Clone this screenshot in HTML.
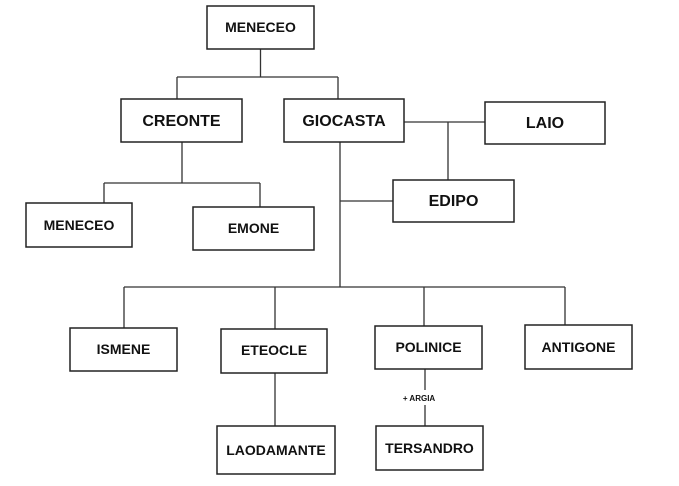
<!DOCTYPE html>
<html><head><meta charset="utf-8"><style>
body{margin:0;background:#fff;width:679px;height:481px;overflow:hidden}
svg text{font-family:"Liberation Sans",Arial,sans-serif;font-weight:bold;fill:#111}
</style></head><body>
<svg width="679" height="481" viewBox="0 0 679 481" xmlns="http://www.w3.org/2000/svg">
<g stroke="#333" stroke-width="1.3" fill="none">
<path d="M260.5 49V77M177 77H338M177 77V99M338 77V99"/>
<path d="M404 122H485M448 122V180"/>
<path d="M182 142V183M104 183H260M104 183V203M260 183V207"/>
<path d="M340 142V287M340 201H393"/>
<path d="M124 287H565M124 287V328M275 287V329M424 287V326M565 287V325"/>
<path d="M275 373V426"/>
<path d="M425 369V390M425 405V426"/>
</g>
<g stroke="#222" stroke-width="1.5" fill="#fff">
<rect x="207" y="6" width="107" height="43"/>
<rect x="121" y="99" width="121" height="43"/>
<rect x="284" y="99" width="120" height="43"/>
<rect x="485" y="102" width="120" height="42"/>
<rect x="393" y="180" width="121" height="42"/>
<rect x="26" y="203" width="106" height="44"/>
<rect x="193" y="207" width="121" height="43"/>
<rect x="70" y="328" width="107" height="43"/>
<rect x="221" y="329" width="106" height="44"/>
<rect x="375" y="326" width="107" height="43"/>
<rect x="525" y="325" width="107" height="44"/>
<rect x="217" y="426" width="118" height="48"/>
<rect x="376" y="426" width="107" height="44"/>
</g>
<g text-anchor="middle" font-size="14">
<text x="260.5" y="32">MENECEO</text>
<text x="181.5" y="126" font-size="16">CREONTE</text>
<text x="344" y="126" font-size="16">GIOCASTA</text>
<text x="545" y="128" font-size="16">LAIO</text>
<text x="453.5" y="206" font-size="16">EDIPO</text>
<text x="79" y="230">MENECEO</text>
<text x="253.5" y="233">EMONE</text>
<text x="123.5" y="354">ISMENE</text>
<text x="274" y="355">ETEOCLE</text>
<text x="428.5" y="352">POLINICE</text>
<text x="578.5" y="352">ANTIGONE</text>
<text x="276" y="455">LAODAMANTE</text>
<text x="429.5" y="453">TERSANDRO</text>
<text x="419" y="401" font-size="8">+ ARGIA</text>
</g>
</svg>
</body></html>
